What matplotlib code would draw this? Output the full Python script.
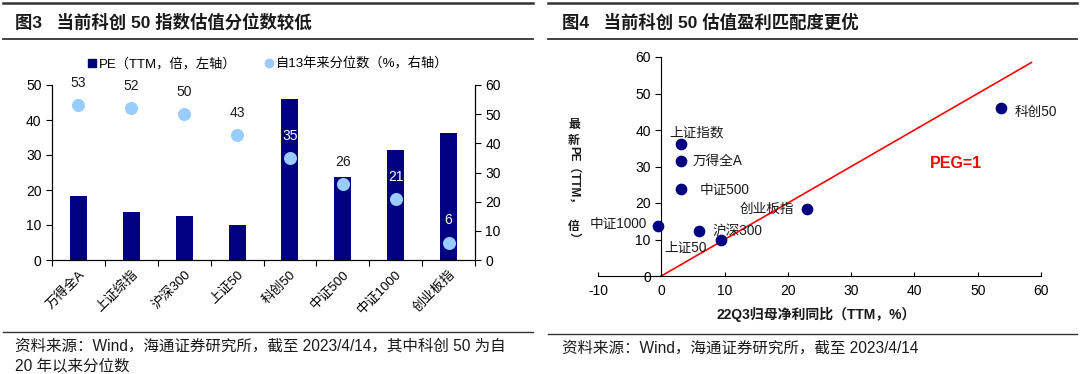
import matplotlib

matplotlib.use("Agg")
import matplotlib.pyplot as plt
from matplotlib.lines import Line2D
import numpy as np

plt.rcParams["font.family"] = ["Liberation Sans", "Noto Sans CJK SC"]
plt.rcParams["axes.unicode_minus"] = False

# ---- data: figure 3 (bar + percentile dots) ----
indices = ["万得全A", "上证综指", "沪深300", "上证50", "科创50", "中证500", "中证1000", "创业板指"]
pe_ttm = [18.4, 13.8, 12.5, 10.1, 45.9, 23.8, 31.4, 36.4]
pct_since13 = [53, 52, 50, 43, 35, 26, 21, 6]
pct_white = [False, False, False, False, True, False, True, True]

# ---- data: figure 4 (scatter PE vs profit growth) ----
sc_names = ["科创50", "上证指数", "万得全A", "中证500", "创业板指", "中证1000", "沪深300", "上证50"]
sc_growth = [53.7, 3.1, 3.1, 3.1, 23.0, -0.5, 5.9, 9.5]
sc_pe = [46.1, 36.3, 31.4, 23.7, 18.3, 13.7, 12.3, 9.9]
peg_x = [0, 58.5]

NAVY = "#000080"
LIGHT = "#99CCFF"
TXT = "#1a1a1a"

fig = plt.figure(figsize=(10.8, 3.74), dpi=100)
W, H = 1080, 374


def fx(px):
    return px / W


def fy(py):
    return 1 - py / H


def hline(x0, x1, y, lw, color="#333333"):
    fig.add_artist(Line2D([fx(x0), fx(x1)], [fy(y), fy(y)], transform=fig.transFigure,
                          color=color, linewidth=lw))


# frame lines and titles
hline(3, 533, 3, 1.8)
hline(3, 533, 39, 1.3)
hline(3, 533, 332, 1.0)
hline(548, 1077, 3, 1.8)
hline(548, 1077, 39, 1.3)
hline(548, 1077, 334, 1.0)

fig.text(fx(15), fy(22), "图3   当前科创 50 指数估值分位数较低", fontsize=12.5, fontweight="bold",
         ha="left", va="center", color=TXT)
fig.text(fx(562), fy(22), "图4   当前科创 50 估值盈利匹配度更优", fontsize=12.5, fontweight="bold",
         ha="left", va="center", color=TXT)

fig.text(fx(15), fy(346), "资料来源：Wind，海通证券研究所，截至 2023/4/14，其中科创 50 为自",
         fontsize=11.2, ha="left", va="center", color=TXT)
fig.text(fx(15), fy(366), "20 年以来分位数", fontsize=11.2, ha="left", va="center", color=TXT)
fig.text(fx(562), fy(348), "资料来源：Wind，海通证券研究所，截至 2023/4/14",
         fontsize=11.2, ha="left", va="center", color=TXT)

# ---- left chart ----
ax = fig.add_axes([fx(52), fy(260), fx(475) - fx(52), fy(85) - fy(260)])
x = np.arange(len(indices))
ax.bar(x, pe_ttm, width=0.32, color=NAVY, zorder=2)
ax.set_xlim(-0.5, len(indices) - 0.5)
ax.set_ylim(0, 50)
ax.set_yticks(range(0, 51, 10))
ax.set_xticks(np.arange(-0.5, len(indices), 1.0))
ax.set_xticklabels([])
ax.set_xticks(x, minor=True)
ax.set_xticklabels(indices, minor=True, rotation=45, ha="right", va="top",
                   rotation_mode="anchor", fontsize=9.5)
ax.tick_params(axis="x", which="major", direction="out", length=4)
ax.tick_params(axis="x", which="minor", length=0, pad=6)
ax.tick_params(axis="y", direction="out", length=4, labelsize=10)
ax.spines["top"].set_visible(False)

ax2 = ax.twinx()
ax2.set_ylim(0, 60)
ax2.set_yticks(range(0, 61, 10))
ax2.scatter(x, pct_since13, s=70, color=LIGHT, zorder=3)
ax2.tick_params(axis="y", direction="out", length=4, labelsize=10)
ax2.spines["top"].set_visible(False)
for xi, v, white in zip(x, pct_since13, pct_white):
    ax2.annotate(f"{v}", (xi, v), xytext=(0, 22), textcoords="offset pixels",
                 ha="center", va="center", fontsize=10, color="white" if white else TXT)

h1 = Line2D([], [], marker="s", linestyle="none", color=NAVY, markersize=6)
h2 = Line2D([], [], marker="o", linestyle="none", color=LIGHT, markersize=6)
fig.legend([h1, h2], ["PE（TTM，倍，左轴）", "自13年来分位数（%，右轴）"], loc="center",
           bbox_to_anchor=(fx(268), fy(64)), ncol=2, frameon=False, fontsize=9.5,
           handlelength=0.6, handletextpad=0.2, columnspacing=2.2)

# ---- right chart ----
bx = fig.add_axes([fx(598), fy(276), fx(1041) - fx(598), fy(57) - fy(276)])
bx.set_xlim(-10, 60)
bx.set_ylim(0, 60)
bx.set_xticks(range(-10, 61, 10))
bx.set_yticks(range(0, 61, 10))
bx.plot(peg_x, peg_x, color="red", linewidth=1.2, zorder=2)
bx.scatter(sc_growth, sc_pe, s=55, color=NAVY, zorder=3)
bx.spines["left"].set_position(("data", 0))
bx.spines["bottom"].set_position(("data", 0))
bx.spines["top"].set_visible(False)
bx.spines["right"].set_visible(False)
bx.tick_params(axis="x", direction="in", length=3, labelsize=10, pad=6)
bx.tick_params(axis="y", direction="out", length=4, labelsize=10)

offsets = {
    "科创50": (14, -4, "left"),
    "上证指数": (-12, 11, "left"),
    "万得全A": (12, 0, "left"),
    "中证500": (19, 0, "left"),
    "创业板指": (-13, 0, "right"),
    "中证1000": (-11, 2, "right"),
    "沪深300": (14, 0, "left"),
    "上证50": (-15, -8, "right"),
}
for name, gx, pe in zip(sc_names, sc_growth, sc_pe):
    dx, dy, ha = offsets[name]
    bx.annotate(name, (gx, pe), xytext=(dx, dy), textcoords="offset pixels",
                ha=ha, va="center", fontsize=9.8, color=TXT)

bx.text(46.5, 30.9, "PEG=1", color="red", fontsize=11.5, fontweight="bold",
        ha="center", va="center")

fig.text(fx(816), fy(314), "22Q3归母净利同比（TTM，%）", fontsize=10, fontweight="bold",
         ha="center", va="center", color=TXT)

# vertical y label, CJK upright and latin rotated
ylab = [("最", 125, 0), ("新", 141, 0), ("PE（TTM，", 178, -90), ("倍", 227, 0), ("）", 238, -90)]
for s, py, rot in ylab:
    fig.text(fx(574), fy(py), s, fontsize=8.5, fontweight="bold", rotation=rot,
             ha="center", va="center", color=TXT)

fig.savefig("out.png", dpi=100)
